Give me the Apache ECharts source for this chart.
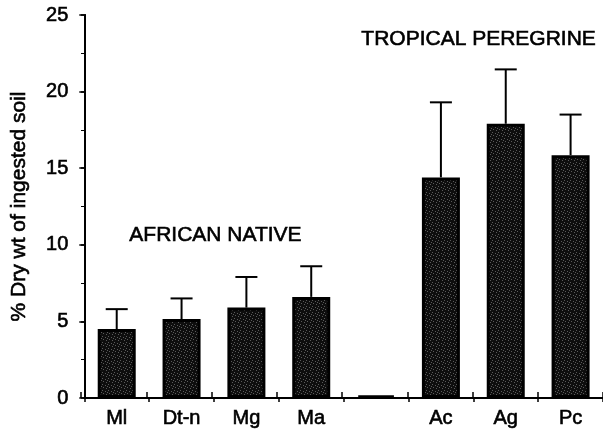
<!DOCTYPE html>
<html>
<head>
<meta charset="utf-8">
<script src="https://cdn.jsdelivr.net/npm/echarts@6/dist/echarts.min.js"></script>
<style>
  html, body { margin: 0; padding: 0; background: #fff; }
  #chart { width: 603px; height: 432px; }
</style>
</head>
<body>
<div id="chart"></div>
<script>
const categories = ['Ml', 'Dt-n', 'Mg', 'Ma', '', 'Ac', 'Ag', 'Pc'];
const means = [4.5, 5.15, 5.9, 6.6, 0.15, 14.4, 17.9, 15.85];
const errors = [1.3, 1.35, 2.0, 2.0, 0, 4.9, 3.55, 2.65];
const yTicks = { min: 0, max: 25, interval: 5 };

const FONT = '"Liberation Sans", Arial, Helvetica, sans-serif';
const ink = { color: '#000', fontFamily: FONT, textBorderColor: '#000', textBorderWidth: 0.6 };

// speckled fill like the printed bars
const makePattern = () => {
  const c = document.createElement('canvas');
  c.width = 6; c.height = 6;
  const ctx = c.getContext('2d');
  ctx.fillStyle = '#0e0e0e';
  ctx.fillRect(0, 0, 6, 6);
  ctx.fillStyle = '#5a5a5a';
  [[0, 0], [3, 1], [1, 3], [4, 4], [5, 2]].forEach(([x, y]) => ctx.fillRect(x, y, 1, 1));
  return c;
};

const chart = echarts.init(document.getElementById('chart'));

const gridRect = { left: 81, top: 15, width: 525, height: 383 };

const option = {
  backgroundColor: '#fff',
  animation: false,
  grid: [gridRect, Object.assign({}, gridRect)],
  xAxis: [
    {
      type: 'category',
      data: categories,
      gridIndex: 0,
      axisLine: { lineStyle: { color: '#000', width: 2 } },
      axisTick: { show: true, length: 4, lineStyle: { color: '#000', width: 1.5 } },
      axisLabel: Object.assign({ fontSize: 20, margin: 10 }, ink)
    },
    {
      type: 'category',
      data: categories,
      gridIndex: 1,
      axisLine: { show: false },
      axisTick: { show: true, inside: true, length: 6, lineStyle: { color: '#000', width: 1.5 } },
      axisLabel: { show: false }
    }
  ],
  yAxis: [
    {
      type: 'value',
      gridIndex: 0,
      min: yTicks.min,
      max: yTicks.max,
      interval: yTicks.interval,
      name: '% Dry wt of ingested soil',
      nameLocation: 'middle',
      nameRotate: 90,
      nameGap: 55,
      nameTextStyle: Object.assign({ fontSize: 21 }, ink),
      axisLine: { show: true, lineStyle: { color: '#000', width: 2 } },
      axisTick: { show: true, length: 5, lineStyle: { color: '#000', width: 1.5 } },
      minorTick: { show: true, splitNumber: 2, length: 3, lineStyle: { color: '#000', width: 1 } },
      splitLine: { show: false },
      axisLabel: Object.assign({ fontSize: 20, margin: 16 }, ink)
    },
    {
      type: 'value',
      gridIndex: 1,
      min: yTicks.min,
      max: yTicks.max,
      interval: yTicks.interval,
      axisLine: { show: false },
      axisTick: { show: true, inside: true, length: 5, lineStyle: { color: '#000', width: 1.5 } },
      minorTick: { show: true, splitNumber: 2, length: 3, lineStyle: { color: '#000', width: 1 } },
      splitLine: { show: false },
      axisLabel: { show: false }
    }
  ],
  graphic: [
    {
      type: 'text', left: 129, top: 224,
      style: { text: 'AFRICAN NATIVE', fill: '#000', stroke: '#000', lineWidth: 0.6, font: '21px ' + FONT }
    },
    {
      type: 'text', left: 361, top: 28,
      style: { text: 'TROPICAL PEREGRINE', fill: '#000', stroke: '#000', lineWidth: 0.6, font: '21px ' + FONT }
    }
  ],
  series: [
    {
      type: 'bar',
      data: means,
      barWidth: 38,
      itemStyle: {
        color: { image: makePattern(), repeat: 'repeat' },
        borderColor: '#000',
        borderWidth: 3
      },
      z: 2
    },
    {
      type: 'custom',
      data: means.map((m, i) => [i, m, m + errors[i]]),
      z: 3,
      renderItem: (params, api) => {
        if (api.value(2) <= api.value(1)) return null;
        const base = api.coord([api.value(0), api.value(1)]);
        const top = api.coord([api.value(0), api.value(2)]);
        const half = 11;
        return {
          type: 'group',
          children: [
            { type: 'line', shape: { x1: base[0], y1: base[1], x2: top[0], y2: top[1] },
              style: { stroke: '#000', lineWidth: 2 } },
            { type: 'line', shape: { x1: top[0] - half, y1: top[1], x2: top[0] + half, y2: top[1] },
              style: { stroke: '#000', lineWidth: 2 } }
          ]
        };
      }
    }
  ]
};

chart.setOption(option);
</script>
</body>
</html>
